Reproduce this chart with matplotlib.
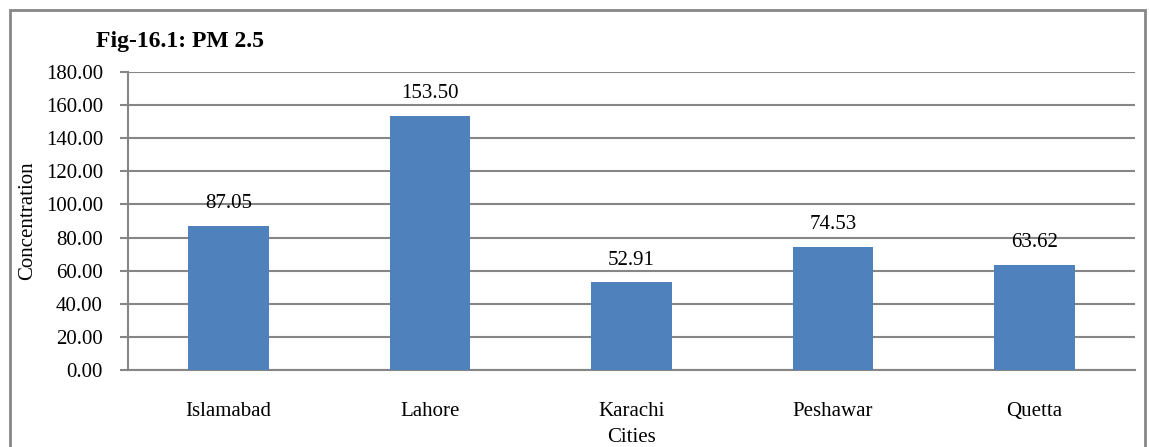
import matplotlib
matplotlib.use('Agg')
from matplotlib import pyplot as plt
from matplotlib.patches import Rectangle
import numpy as np

cities = ['Islamabad', 'Lahore', 'Karachi', 'Peshawar', 'Quetta']
pm25 = [87.05, 153.50, 52.91, 74.53, 63.62]
y_ticks = [0, 20, 40, 60, 80, 100, 120, 140, 160, 180]

plt.rcParams['font.family'] = ['Liberation Serif', 'DejaVu Serif']

W, H = 1149, 447
fig = plt.figure(figsize=(W / 100, H / 100), dpi=100)
ax = fig.add_axes([128 / W, 1 - 370 / H, (1135 - 128) / W, (370 - 72) / H])

grid_c = '#868686'
x = np.arange(len(cities))
bars = ax.bar(x, pm25, width=0.4, color='#4F81BD', zorder=3)

for b, v in zip(bars, pm25):
    ax.annotate('%.2f' % v, (b.get_x() + b.get_width() / 2, v),
                xytext=(0, 9), textcoords='offset points',
                ha='center', va='bottom', fontsize=15)

ax.set_xlim(-0.5, len(cities) - 0.5)
ax.set_ylim(0, 180)
ax.set_yticks(y_ticks)
ax.set_yticklabels(['%.2f' % t for t in y_ticks], fontsize=15)
ax.set_xticks(x)
ax.set_xticklabels(cities, fontsize=15)
ax.tick_params(axis='x', length=0, pad=23)
ax.tick_params(axis='y', length=6, width=1.5, color=grid_c, pad=12)
ax.yaxis.grid(True, color=grid_c, linewidth=1.5, zorder=0)
ax.set_axisbelow(True)
for s in ['top', 'right']:
    ax.spines[s].set_visible(False)
for s in ['left', 'bottom']:
    ax.spines[s].set_color(grid_c)
    ax.spines[s].set_linewidth(1.5)

fig.text(96 / W, 1 - 41 / H, 'Fig-16.1: PM 2.5', fontsize=17, fontweight='bold',
         ha='left', va='center')
fig.text(28 / W, 1 - 221 / H, 'Concentration', fontsize=15, rotation=90,
         ha='center', va='center')
fig.text((128 + 1135) / 2 / W, 1 - 437 / H, 'Cities', fontsize=15,
         ha='center', va='center')

fig.patches.append(Rectangle((10 / W, -0.1), (1145 - 10) / W, 1.1 - 10 / H,
                             transform=fig.transFigure, fill=False,
                             edgecolor=grid_c, linewidth=2, clip_on=False))

fig.savefig('out.png', dpi=100)
